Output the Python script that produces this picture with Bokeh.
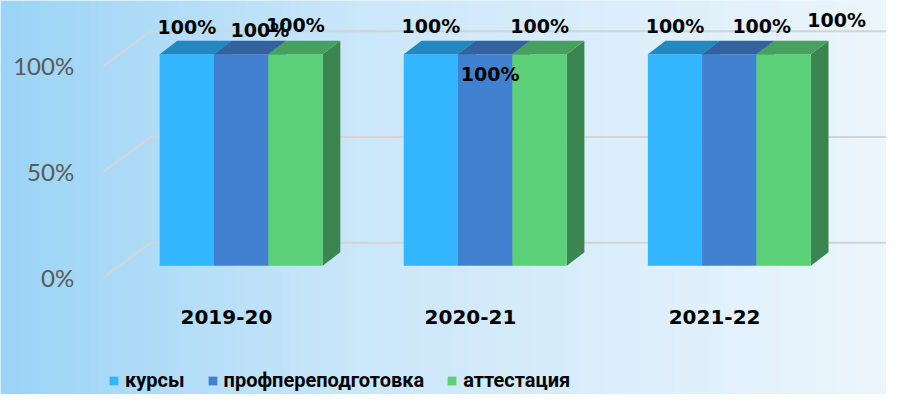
import numpy as np
from bokeh.plotting import figure
from bokeh.models import Range1d, ColumnDataSource, Legend, LegendItem
from bokeh.core.properties import value
from bokeh.embed import file_html
from bokeh.resources import INLINE

# ---------------- data ----------------
years = ["2019-20", "2020-21", "2021-22"]
series_names = ["курсы", "профпереподготовка", "аттестация"]
kursy = [100, 100, 100]
profperepodgotovka = [100, 100, 100]
attestatsiya = [100, 100, 100]
y_ticks = [0, 50, 100]
y_tick_labels = ["0%", "50%", "100%"]

# ---------------- styles ----------------
front_colors = ["#33B6FE", "#4281D0", "#5BD078"]
top_colors = ["#2488C0", "#33629F", "#46A05E"]
side_colors = ["#2A8FCB", "#335F9C", "#3B8550"]
# manual data-label shifts (reference px) relative to bar top
label_dx = [[0, 0, 0], [19, 5, 33], [0, 0, 54]]
label_dy = [[-28, -29, -29], [-25, 20, -29], [-31, -29, -36]]

W, H = 886, 394
SX, SY = W / 902, H / 410
PXX = 248.5 * SX   # px per category step
X0 = 245.0 * SX    # px of first category centre
PXY = 2.2 * SY     # px per percent
Y0 = 276.0 * SY    # px from top of 0 %

x_start, x_end = -X0 / PXX, (W - X0) / PXX
y_start, y_end = -(H - Y0) / PXY, Y0 / PXY

bw = 55.3 * SX / PXX
ddx, ddy = 18 * SX / PXX, 14 * SY / PXY
wall_x, wall_dx = (105 * SX - X0) / PXX, 48 * SX / PXX
wall_front, wall_back = -12 * SY / PXY, 24 * SY / PXY

p = figure(width=W, height=H, x_range=Range1d(x_start, x_end),
           y_range=Range1d(y_start, y_end), output_backend="svg",
           toolbar_location=None, min_border=0,
           x_axis_location=None, y_axis_location=None)
p.grid.visible = False
p.outline_line_color = None
p.background_fill_color = "#DDEFFC"
p.border_fill_color = "#DDEFFC"

# background gradient
cols = 300
t = np.linspace(0, 1, cols)
img = np.zeros((2, cols), dtype=np.uint32)
v = img.view(dtype=np.uint8).reshape((2, cols, 4))
v[..., 0] = np.interp(t, [0, 0.4, 1], [155, 203, 236]).astype(np.uint8)
v[..., 1] = np.interp(t, [0, 0.4, 1], [212, 231, 246]).astype(np.uint8)
v[..., 2] = np.interp(t, [0, 0.4, 1], [246, 250, 253]).astype(np.uint8)
v[..., 3] = 255
p.image_rgba(image=[img], x=x_start, y=y_start, dw=x_end - x_start, dh=y_end - y_start)

# 3D gridlines
gx, gy = [], []
for tv in y_ticks:
    gx.append([wall_x, wall_x + wall_dx, x_end])
    gy.append([tv + wall_front, tv + wall_back, tv + wall_back])
p.multi_line(xs=gx, ys=gy, line_color="#D4D4D4", line_width=2)

all_series = [kursy, profperepodgotovka, attestatsiya]
idx = np.arange(len(years))

# side faces
for k, vals in enumerate(all_series):
    sxs, sys_ = [], []
    for i, val in enumerate(vals):
        r = i + (k - 1) * bw + bw / 2
        sxs.append([r, r + ddx, r + ddx, r])
        sys_.append([0, ddy, val + ddy, val])
    p.patches(xs=sxs, ys=sys_, fill_color=side_colors[k], line_color=None)

# front faces
fronts = []
for k, vals in enumerate(all_series):
    src = ColumnDataSource(dict(x=idx + (k - 1) * bw, top=vals))
    r = p.vbar(x="x", top="top", bottom=0, width=bw, source=src,
               fill_color=front_colors[k], line_color=None)
    fronts.append(r)

# top faces
for k, vals in enumerate(all_series):
    txs, tys = [], []
    for i, val in enumerate(vals):
        l = i + (k - 1) * bw - bw / 2
        rr = l + bw
        txs.append([l, rr, rr + ddx, l + ddx])
        tys.append([val, val, val + ddy, val + ddy])
    p.patches(xs=txs, ys=tys, fill_color=top_colors[k], line_color=None)

# y tick labels
p.text(x=[(75 * SX - X0) / PXX] * len(y_ticks), y=[tv + wall_front for tv in y_ticks],
       text=y_tick_labels, text_align="right", text_baseline="middle",
       text_font=value("Lato"), text_font_size="24px", text_color="#595959")

# category labels
p.text(x=idx - 15 * SX / PXX, y=[-51 / PXY] * len(years), text=years,
       text_align="center", text_baseline="middle",
       text_font=value("DejaVu Sans"), text_font_style="bold",
       text_font_size="20px", text_color="black")

# data labels
for k, vals in enumerate(all_series):
    src = ColumnDataSource(dict(x=idx + (k - 1) * bw, y=vals,
                                t=["%d%%" % vv for vv in vals],
                                dx=[d * SX for d in label_dx[k]],
                                dy=[d * SY for d in label_dy[k]]))
    p.text(x="x", y="y", text="t", x_offset="dx", y_offset="dy", source=src,
           text_align="center", text_baseline="middle",
           text_font=value("DejaVu Sans"), text_font_style="bold",
           text_font_size="19px", text_color="black")

legend = Legend(items=[LegendItem(label=series_names[k], renderers=[fronts[k]])
                       for k in range(3)],
                orientation="horizontal", location=(108, 2),
                glyph_width=11, glyph_height=11, label_standoff=6, spacing=22,
                padding=0, margin=0, background_fill_alpha=0, border_line_alpha=0,
                label_text_font="Roboto",
                label_text_font_size="20px", label_text_font_style="bold",
                label_text_color="black")
p.add_layout(legend)

open("out.html", "w").write(file_html(p, INLINE))
